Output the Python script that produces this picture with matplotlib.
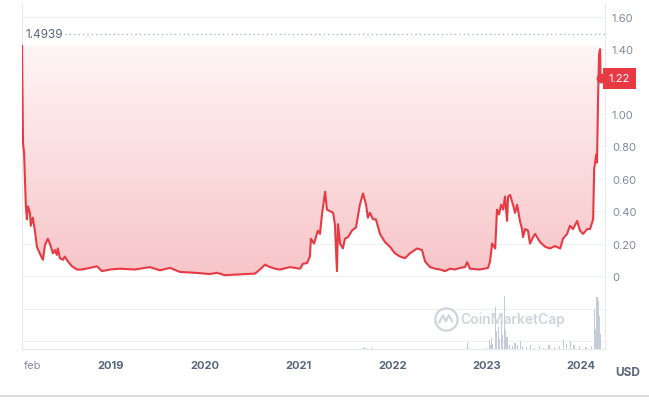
import matplotlib.pyplot as plt
import matplotlib.dates as mdates
import matplotlib.transforms as mtransforms
import numpy as np
import pandas as pd
from matplotlib.colors import LinearSegmentedColormap
from matplotlib.lines import Line2D

plt.rcParams['font.family'] = ['Inter', 'DejaVu Sans']

# price history (USD)
price_dates = [
    "2018-01-23", "2018-01-27", "2018-01-31", "2018-02-07", "2018-02-11", "2018-02-15",
    "2018-02-23", "2018-02-26", "2018-03-06", "2018-03-14", "2018-03-22", "2018-04-02",
    "2018-04-14", "2018-04-22", "2018-05-03", "2018-05-11", "2018-05-23", "2018-05-31",
    "2018-06-07", "2018-06-11", "2018-06-19", "2018-07-01", "2018-07-08", "2018-07-20",
    "2018-08-05", "2018-08-24", "2018-09-12", "2018-10-13", "2018-11-10", "2018-11-29",
    "2018-12-30", "2019-02-07", "2019-04-06", "2019-06-03", "2019-07-12", "2019-08-20",
    "2019-09-28", "2019-11-25", "2020-01-22", "2020-02-18", "2020-03-20", "2020-05-18",
    "2020-07-15", "2020-08-03", "2020-08-23", "2020-09-11", "2020-10-01", "2020-10-20",
    "2020-11-28", "2021-01-06", "2021-01-17", "2021-02-02", "2021-02-13", "2021-02-17",
    "2021-03-01", "2021-03-16", "2021-03-24", "2021-04-01", "2021-04-13", "2021-04-20",
    "2021-05-02", "2021-05-14", "2021-05-21", "2021-05-29", "2021-06-02", "2021-06-10",
    "2021-06-21", "2021-06-29", "2021-07-11", "2021-07-26", "2021-08-11", "2021-08-26",
    "2021-09-07", "2021-09-19", "2021-09-26", "2021-10-04", "2021-10-16", "2021-10-27",
    "2021-11-12", "2021-12-01", "2021-12-21", "2022-01-09", "2022-01-29", "2022-02-17",
    "2022-03-08", "2022-04-05", "2022-04-24", "2022-05-06", "2022-05-25", "2022-06-14",
    "2022-07-03", "2022-07-22", "2022-08-11", "2022-08-30", "2022-09-19", "2022-10-08",
    "2022-10-16", "2022-10-27", "2022-12-05", "2023-01-05", "2023-01-13", "2023-01-21",
    "2023-02-02", "2023-02-09", "2023-02-17", "2023-02-25", "2023-03-05", "2023-03-12",
    "2023-03-20", "2023-03-24", "2023-04-01", "2023-04-12", "2023-04-20", "2023-04-28",
    "2023-05-09", "2023-05-17", "2023-05-21", "2023-05-29", "2023-06-09", "2023-06-17",
    "2023-06-29", "2023-07-07", "2023-07-18", "2023-07-26", "2023-08-15", "2023-09-03",
    "2023-09-22", "2023-10-12", "2023-10-23", "2023-11-08", "2023-11-19", "2023-12-01",
    "2023-12-17", "2023-12-28", "2024-01-09", "2024-01-25", "2024-02-05", "2024-02-17",
    "2024-02-21", "2024-02-29", "2024-03-03", "2024-03-07", "2024-03-11", "2024-03-15",
    "2024-03-17",
]
price_values = [
    1.42, 0.82, 0.76, 0.43, 0.35, 0.43,
    0.39, 0.31, 0.36, 0.28, 0.18, 0.14,
    0.10, 0.19, 0.23, 0.20, 0.14, 0.16,
    0.13, 0.17, 0.11, 0.10, 0.12, 0.09,
    0.06, 0.04, 0.04, 0.05, 0.06, 0.03,
    0.04, 0.045, 0.04, 0.055, 0.035, 0.05,
    0.025, 0.02, 0.012, 0.02, 0.005, 0.01,
    0.015, 0.04, 0.07, 0.055, 0.045, 0.04,
    0.055, 0.045, 0.075, 0.08, 0.12, 0.23,
    0.20, 0.28, 0.26, 0.38, 0.52, 0.41,
    0.40, 0.39, 0.32, 0.03, 0.32, 0.20,
    0.17, 0.23, 0.24, 0.28, 0.30, 0.44,
    0.51, 0.44, 0.36, 0.39, 0.35, 0.35,
    0.26, 0.21, 0.18, 0.14, 0.12, 0.11,
    0.14, 0.17, 0.16, 0.09, 0.055, 0.045,
    0.04, 0.03, 0.045, 0.04, 0.05, 0.055,
    0.085, 0.045, 0.04, 0.05, 0.09, 0.20,
    0.17, 0.41, 0.38, 0.44, 0.41, 0.49,
    0.34, 0.49, 0.50, 0.44, 0.39, 0.44,
    0.34, 0.29, 0.24, 0.29, 0.28, 0.20,
    0.24, 0.26, 0.23, 0.21, 0.18, 0.17,
    0.185, 0.17, 0.23, 0.26, 0.31, 0.29,
    0.34, 0.28, 0.26, 0.29, 0.29, 0.35,
    0.66, 0.75, 0.70, 1.09, 1.37, 1.40,
    1.22,
]

# trading volume (relative units)
vol_dates = [
    "2021-09-08", "2021-09-15", "2021-10-10", "2022-10-16", "2022-10-20", "2022-12-30",
    "2023-01-10", "2023-01-14", "2023-01-19", "2023-01-24", "2023-02-04", "2023-02-08",
    "2023-02-14", "2023-02-20", "2023-02-26", "2023-03-03", "2023-03-09", "2023-03-13",
    "2023-03-20", "2023-03-30", "2023-04-10", "2023-04-20", "2023-05-01", "2023-05-12",
    "2023-05-20", "2023-06-05", "2023-06-20", "2023-07-05", "2023-07-25", "2023-08-10",
    "2023-08-30", "2023-09-20", "2023-10-10", "2023-10-25", "2023-11-05", "2023-11-20",
    "2023-12-05", "2023-12-25", "2024-01-20", "2024-02-10", "2024-02-21", "2024-02-27",
    "2024-03-03", "2024-03-08", "2024-03-13", "2024-03-17",
]
vol_values = [
    1.5, 0.5, 1.0, 6, 0.5, 1,
    9, 4, 11, 5, 41, 18,
    22, 10, 26, 14, 52, 19,
    12, 4, 3, 6, 4, 8,
    3, 2, 4, 1, 3, 1,
    4, 2, 3, 9, 5, 8,
    4, 3, 2, 3, 39, 20,
    51, 47, 32, 15,
]

high_value = 1.4939
last_value = 1.22
ytick_values = [0, 0.2, 0.4, 0.6, 0.8, 1.0, 1.4, 1.6]
ytick_labels = ["0", "0.20", "0.40", "0.60", "0.80", "1.00", "1.40", "1.60"]
xtick_dates = ["2018-02-01", "2019-01-01", "2020-01-01", "2021-01-01",
               "2022-01-01", "2023-01-01", "2024-01-01"]
xtick_labels = ["feb", "2019", "2020", "2021", "2022", "2023", "2024"]

red = "#e83a44"
grid_c = "#eff2f5"
text_c = "#58667e"

fig = plt.figure(figsize=(6.49, 4.02), dpi=100)
ax = fig.add_axes([22 / 649, 52 / 402, 583 / 649, 345 / 402])

x = mdates.date2num(pd.to_datetime(price_dates))
top = max(price_values)

# grid lines for price pane and volume pane
for v in ytick_values + [1.2, -0.204, -0.401]:
    ax.axhline(v, color=grid_c, lw=0.8, zorder=0)

# gradient fill between line and its top
poly = ax.fill_between(x, price_values, top, facecolor="none", edgecolor="none")
grad = np.linspace(0, 1, 256).reshape(-1, 1)
cmap = LinearSegmentedColormap.from_list("pink", ["#f7c5c8", "#fff5f5"])
im = ax.imshow(grad, cmap=cmap, aspect="auto", origin="lower",
               extent=[x[0], x[-1], 0, top], zorder=1)
im.set_clip_path(poly.get_paths()[0], transform=ax.transData)

ax.plot(x, price_values, color=red, lw=1.5, zorder=3, solid_joinstyle="round")
ax.plot(x[-1], last_value, "o", ms=6, color=red, zorder=4)

# all time high
ax.axhline(high_value, xmin=43 / 583, color="#a6b0c3", lw=0.9, ls=(0, (1, 2.5)), zorder=2)
trans = mtransforms.blended_transform_factory(ax.transAxes, ax.transData)
ax.text(3 / 583, high_value, "1.4939", transform=trans, va="center", ha="left",
        color=text_c, fontsize=8.5)

ax.set_xlim(pd.Timestamp("2018-01-23"), pd.Timestamp("2024-04-03"))
ax.set_ylim(-0.4506, 1.679)

ax.set_xticks(pd.to_datetime(xtick_dates), xtick_labels)
ax.tick_params(axis="x", length=0, pad=8, labelcolor=text_c, labelsize=8)
for lab in ax.get_xticklabels():
    if lab.get_text() == "feb":
        lab.set_fontweight("normal")
        lab.set_horizontalalignment("left")
        lab.set_color("#808a9d")
    else:
        lab.set_fontweight("bold")

for s in ["left", "right", "bottom"]:
    ax.spines[s].set_color("#e6e9ef")
    ax.spines[s].set_linewidth(0.8)
ax.spines["top"].set_visible(False)

# volume pane
ax_vol = ax.twinx()
ax_vol.bar(pd.to_datetime(vol_dates), vol_values, width=4.5, color="#c5ccd9", zorder=2)
ax_vol.set_ylim(0, 338)
ax_vol.set_yticks([])
for s in ax_vol.spines.values():
    s.set_visible(False)

# price ticks on the right (after twinx, which moves them left)
ax.yaxis.tick_right()
ax.set_yticks(ytick_values, ytick_labels)
ax.tick_params(axis="y", length=0, pad=5, labelcolor="#808a9d", labelsize=8)

ax_vol.text(1 + 4 / 583, (last_value + 0.4506) / (1.679 + 0.4506), "1.22",
            transform=ax.transAxes, va="center", ha="left", color="white", fontsize=8,
            bbox=dict(boxstyle="square,pad=0.5", fc=red, ec="none"), zorder=5)

# watermark
ax.plot(0.727, 0.087, "o", ms=16, mfc="none", mec="#cfd4dc", mew=1.6,
        transform=ax.transAxes, zorder=2)
ax.plot([0.716, 0.722, 0.727, 0.732, 0.738], [0.078, 0.098, 0.080, 0.098, 0.080],
        color="#cfd4dc", lw=1.5, transform=ax.transAxes, zorder=2)
ax.text(0.752, 0.087, "CoinMarketCap", transform=ax.transAxes, va="center", ha="left",
        color="#cfd4dc", fontsize=10, fontweight="semibold", zorder=2)

fig.text(615 / 649, 1 - 373 / 402, "USD", color=text_c, fontsize=8.5,
         fontweight="bold", va="center", ha="left")
fig.add_artist(Line2D([0, 1], [1 - 397 / 402] * 2, color="#dcdcdc", lw=1.5))

fig.savefig("out.png", dpi=100)
